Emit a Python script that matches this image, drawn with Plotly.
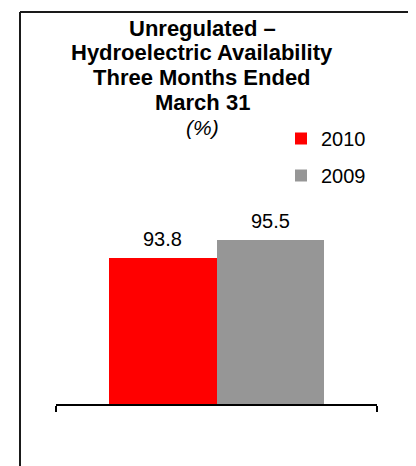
"""
Unregulated hydroelectric availability, three months ended March 31.
"""

import plotly.graph_objects as go

YEARS = ['2010', '2009']
AVAILABILITY = [93.8, 95.5]
BAR_COLORS = ['#FF0000', '#969696']
TITLE_LINES = [
    '<b>Unregulated –</b>',
    '<b>Hydroelectric Availability</b>',
    '<b>Three Months Ended</b>',
    '<b>March 31</b>',
    '<i>(%)</i>',
]

# page has an 8px body margin, so the figure is drawn 8px smaller
OFF = 8
W, H = 416 - OFF, 466 - OFF
L, R, T, B = 56 - OFF, 39, 192 - OFF, 62
PLOT_W, PLOT_H = W - L - R, H - T - B
FONT = 'Liberation Sans, Arial, sans-serif'


def px_x(x):
    # screen pixel -> paper coordinate
    return (x - OFF - L) / PLOT_W


def px_y(y):
    return (H - B - (y - OFF)) / PLOT_H


fig = go.Figure()

for i, (year, val, color) in enumerate(zip(YEARS, AVAILABILITY, BAR_COLORS)):
    fig.add_trace(go.Bar(
        x=[year], y=[val], name=year,
        marker=dict(color=color, line=dict(width=0)),
        width=1,
        legendgroup=year,
        hoverinfo='skip',
    ))
    # value label above each bar (category axes want the index here)
    fig.add_annotation(
        x=i, y=val, text=f'{val:.1f}',
        showarrow=False, yanchor='bottom', yshift=6,
        font=dict(size=20, color='black', family=FONT),
    )

# title lines, one annotation per line to control spacing
for i, line in enumerate(TITLE_LINES):
    fig.add_annotation(
        x=px_x(202), y=px_y(28 + 24.9 * i),
        xref='paper', yref='paper', xanchor='center', yanchor='middle',
        text=line, showarrow=False,
        font=dict(size=22 if i < 4 else 21, color='black', family=FONT),
    )

# outer chart frame
fig.add_shape(type='line', xref='paper', yref='paper',
              x0=px_x(20), x1=px_x(415), y0=px_y(12), y1=px_y(12),
              line=dict(color='#1a1a1a', width=2))
fig.add_shape(type='line', xref='paper', yref='paper',
              x0=px_x(20), x1=px_x(20), y0=px_y(12), y1=px_y(480),
              line=dict(color='#1a1a1a', width=2))
fig.add_shape(type='line', xref='paper', yref='paper',
              x0=px_x(414.5), x1=px_x(414.5), y0=px_y(12), y1=px_y(480),
              line=dict(color='#808080', width=1))

fig.update_layout(
    width=W, height=H,
    margin=dict(l=L, r=R, t=T, b=B),
    paper_bgcolor='white', plot_bgcolor='white',
    barmode='overlay', bargap=0,
    font=dict(family=FONT, color='black'),
    showlegend=True,
    legend=dict(
        x=px_x(281), y=px_y(119), xanchor='left', yanchor='top',
        font=dict(size=20, color='black', family=FONT),
        traceorder='grouped', tracegroupgap=8,
        bgcolor='rgba(0,0,0,0)',
    ),
)

fig.update_xaxes(
    type='category', range=[-0.993, 1.993],
    showline=True, linecolor='black', linewidth=2,
    ticks='outside', tickvals=[-0.993, 1.993], ticktext=['', ''],
    ticklen=6, tickwidth=2, tickcolor='black',
    showgrid=False, zeroline=False, fixedrange=True,
)
fig.update_yaxes(
    range=[80, 100], visible=False, showgrid=False, fixedrange=True,
)

fig.write_html('out.html')
